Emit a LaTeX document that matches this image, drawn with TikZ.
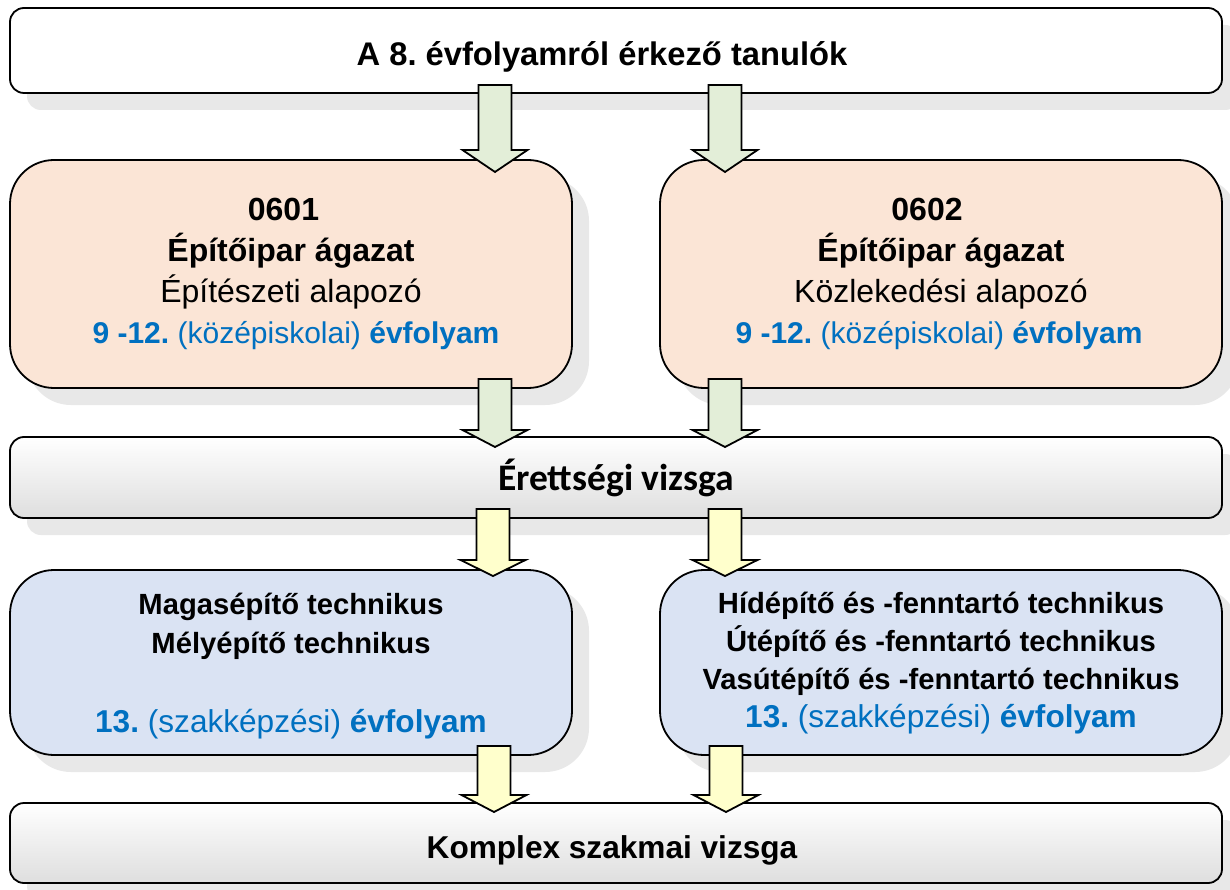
\documentclass[tikz,border=0pt]{standalone}
\usepackage{fontspec}
\setmainfont{Liberation Sans}
\newfontfamily\calibri{Carlito}
\usetikzlibrary{shadows}
\frenchspacing
\definecolor{peach}{HTML}{FBE5D6}
\definecolor{lblue}{HTML}{DAE3F3}
\definecolor{agreen}{HTML}{E3EED8}
\definecolor{ayellow}{HTML}{FFFFCC}
\definecolor{shgray}{HTML}{E8E8E8}
\definecolor{tblue}{HTML}{0070C0}
\definecolor{gbot}{HTML}{DEDEDE}
\newcommand\blockarrow[5]{% fill, cx, ytop, ybase, ytip
  \draw[arrowline, fill=#1] (#2-16.5,#3) -- (#2+16.5,#3) -- (#2+16.5,#4) -- (#2+32.5,#4)
    -- (#2,#5) -- (#2-32.5,#4) -- (#2-16.5,#4) -- cycle;}
\newcommand\bluetext[1]{\fontsize{31.6}{38}\selectfont\color{tblue}#1}
\newcommand\lft[2]{#2\hspace*{#1}}
\newcommand\rgt[2]{\hspace*{#1}#2}
\begin{document}
\begin{tikzpicture}[x=1pt,y=-1pt,
  box/.style={draw, line width=1.8pt, align=center, inner sep=0pt,
    drop shadow={shadow xshift=17pt, shadow yshift=-17pt, fill=shgray, opacity=1}},
  widebox/.style={box, rounded corners=14pt, minimum width=1212pt},
  midbox/.style={box, rounded corners=44pt, minimum width=562pt},
  arrowline/.style={draw, line width=1.8pt, line join=miter},
]
\useasboundingbox (0,0) rectangle (1230,890);
\fill[white] (0,0) rectangle (1230,890);

\node[widebox, fill=white, minimum height=85pt, text height=30pt, text depth=0pt,
  font=\fontsize{32.7}{38}\selectfont\bfseries] (top) at (616,50.5)
  {\lft{28pt}{A 8. évfolyamról érkező tanulók}};

\node[midbox, fill=peach, minimum height=228pt,
  font=\fontsize{32}{41}\selectfont] (o1) at (291,274)
  {\lft{15pt}{\textbf{0601}}\\ \lft{12pt}{\textbf{Építőipar ágazat}}\\ \lft{12pt}{Építészeti alapozó}\\
   \fontsize{30}{41}\selectfont\color{tblue}\rgt{10pt}{\textbf{9 -12.} (középiskolai) \textbf{évfolyam}}};
\node[midbox, fill=peach, minimum height=228pt,
  font=\fontsize{32}{41}\selectfont] (o2) at (941,274)
  {\lft{28pt}{\textbf{0602}}\\ \lft{22pt}{\textbf{Építőipar ágazat}}\\ \lft{26pt}{Közlekedési alapozó}\\
   \fontsize{30}{41}\selectfont\color{tblue}\lft{4pt}{\textbf{9 -12.} (középiskolai) \textbf{évfolyam}}};

\node[widebox, top color=white, bottom color=gbot, minimum height=81pt,
  font=\fontsize{37.5}{42}\selectfont\calibri\bfseries] (er) at (616,477.5)
  {Érettségi vizsga};

\node[midbox, fill=lblue, minimum height=185pt,
  font=\fontsize{29.2}{39}\selectfont\bfseries] (b1) at (291,662.5)
  {\rule{0pt}{29pt}Magasépítő technikus\\ Mélyépítő technikus\\[40pt]
   \bluetext{13. \mdseries(szakképzési)\bfseries{} évfolyam}};
\node[midbox, fill=lblue, minimum height=185pt,
  font=\fontsize{29.2}{38}\selectfont\bfseries] (b2) at (941,662.5)
  {\rule{0pt}{22pt}Hídépítő és -fenntartó technikus\\ Útépítő és -fenntartó technikus\\
   Vasútépítő és -fenntartó technikus\\
   \bluetext{13. \mdseries(szakképzési)\bfseries{} évfolyam}};

\node[widebox, top color=white, bottom color=gbot, minimum height=80pt,
  text height=30pt, text depth=0pt,
  font=\fontsize{31.6}{36}\selectfont\bfseries] (kp) at (616,843)
  {\lft{8pt}{Komplex szakmai vizsga}};

% block arrows between the boxes
\blockarrow{agreen}{495}{85}{150}{172}
\blockarrow{agreen}{725}{85}{150}{172}
\blockarrow{agreen}{495}{379}{430}{447}
\blockarrow{agreen}{725}{379}{430}{447}
\blockarrow{ayellow}{493}{509}{560}{576}
\blockarrow{ayellow}{725}{509}{560}{576}
\blockarrow{ayellow}{494}{746}{795}{812}
\blockarrow{ayellow}{726}{746}{795}{812}
\end{tikzpicture}
\end{document}
